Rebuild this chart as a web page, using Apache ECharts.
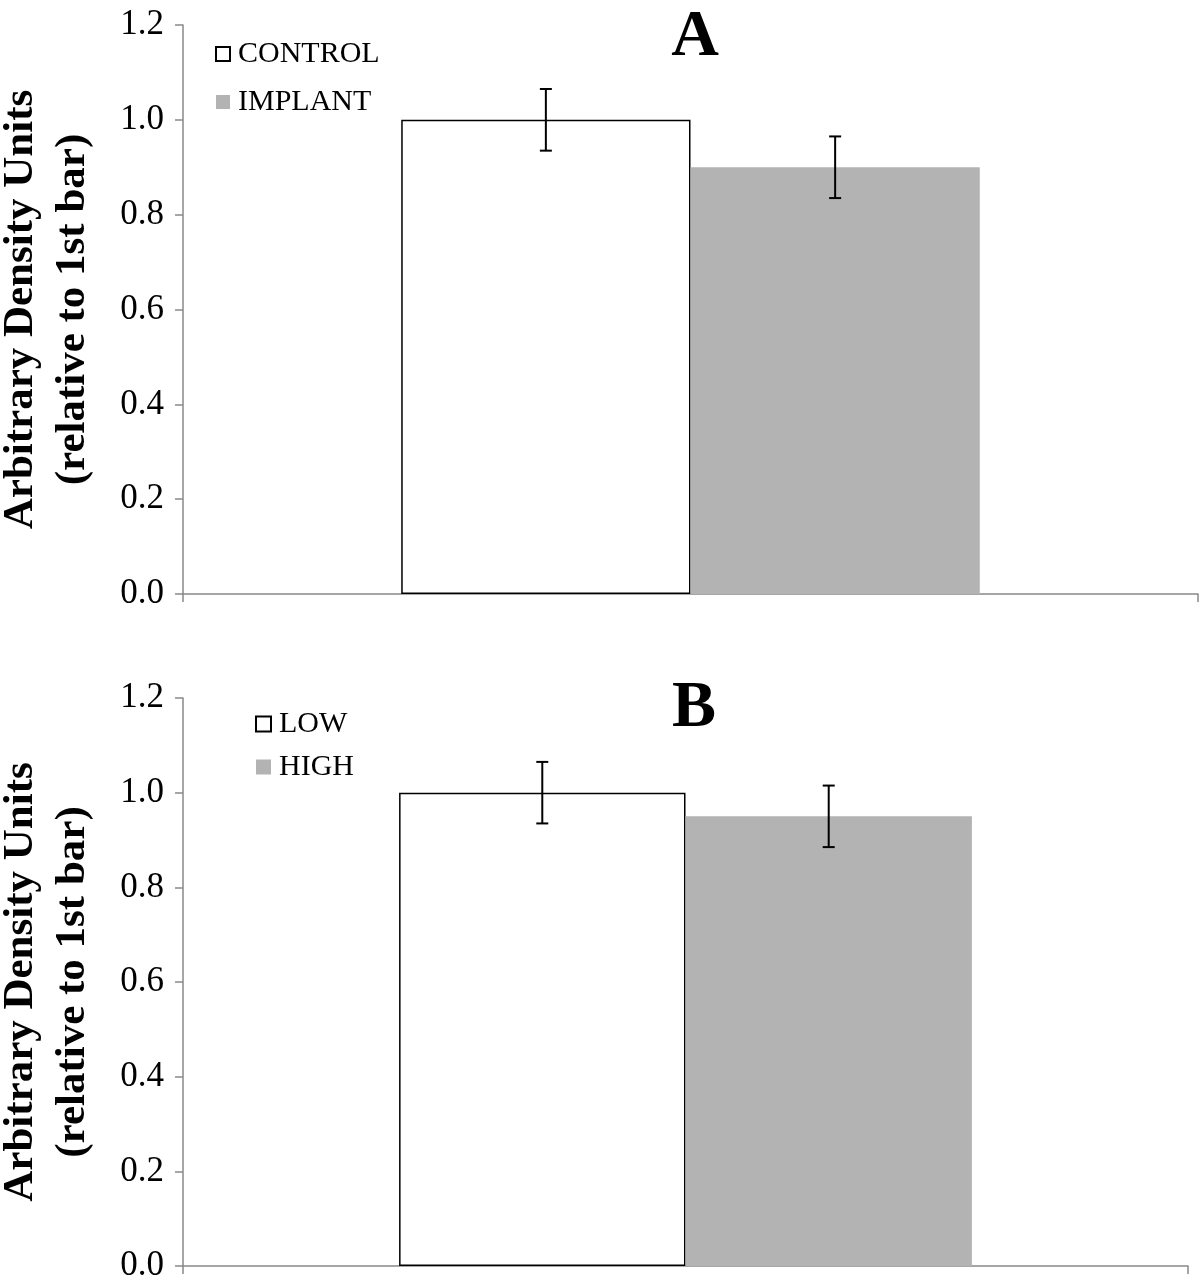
<!DOCTYPE html>
<html>
<head>
<meta charset="utf-8">
<script src="https://cdn.jsdelivr.net/npm/echarts@6/dist/echarts.min.js"></script>
<style>
html,body{margin:0;padding:0;background:#fff;}
#chart{width:1200px;height:1287px;}
</style>
</head>
<body>
<div id="chart"></div>
<script>
// ---- Data ----
const categories = [''];
const panelTitles = ['A', 'B'];
const seriesNamesA = ['CONTROL', 'IMPLANT'];
const seriesNamesB = ['LOW', 'HIGH'];
const valuesA = [1.0, 0.90];
const errorsA = [0.065, 0.065];
const valuesB = [1.0, 0.95];
const errorsB = [0.065, 0.065];
const yTicks = [0, 0.2, 0.4, 0.6, 0.8, 1.0, 1.2];
const yName = 'Arbitrary Density Units\n(relative to 1st bar)';

// ---- Styles ----
const SERIF = '"Liberation Serif","Times New Roman",serif';
const AXIS_GRAY = '#898989';
const BAR_GRAY = '#b3b3b3';
const CAT_GAP = 0.43;

const chart = echarts.init(document.getElementById('chart'), null, {renderer: 'canvas'});

function yAxisDef(gridIndex) {
  return {
    type: 'value', gridIndex: gridIndex,
    min: yTicks[0], max: yTicks[yTicks.length - 1], interval: 0.2,
    axisLine: {show: true, lineStyle: {color: AXIS_GRAY, width: 1.5}},
    axisTick: {show: true, length: 8, lineStyle: {color: AXIS_GRAY, width: 1.5}},
    splitLine: {show: false},
    axisLabel: {color: '#000', fontFamily: SERIF, fontSize: 35, margin: 19,
      formatter: v => v.toFixed(1)},
    name: yName, nameLocation: 'middle', nameRotate: 90, nameGap: 84,
    nameTextStyle: {color: '#000', fontFamily: SERIF, fontSize: 43, fontWeight: 'bold', lineHeight: 52}
  };
}
function xAxisDef(gridIndex) {
  return {
    type: 'category', gridIndex: gridIndex, data: categories,
    axisLine: {show: true, lineStyle: {color: AXIS_GRAY, width: 1.5}},
    axisTick: {show: true, length: 8, lineStyle: {color: AXIS_GRAY, width: 1.5}},
    axisLabel: {show: false},
    splitLine: {show: false}
  };
}
function barSeries(name, val, idx, gridIdx, white) {
  return {
    type: 'bar', name: name, xAxisIndex: gridIdx, yAxisIndex: gridIdx,
    data: [val], barGap: '0%', barCategoryGap: (CAT_GAP * 100) + '%',
    itemStyle: white ? {color: '#fff', borderColor: '#000', borderWidth: 1.5}
                     : {color: BAR_GRAY, borderWidth: 0},
    emphasis: {disabled: true}, silent: true
  };
}
function errSeries(vals, errs, gridIdx) {
  const data = vals.map((v, i) => [0, v - errs[i], v + errs[i], i]);
  return {
    type: 'custom', xAxisIndex: gridIdx, yAxisIndex: gridIdx, z: 10, silent: true,
    encode: {x: 0, y: [1, 2]},
    data: data,
    renderItem: function (params, api) {
      const band = api.size([1, 0])[0];
      const barW = band * (1 - CAT_GAP) / 2;
      const k = api.value(3);
      const off = (k === 0 ? -1 : 1) * barW / 2;
      const lo = api.coord([api.value(0), api.value(1)]);
      const hi = api.coord([api.value(0), api.value(2)]);
      const x = lo[0] + off;
      const cap = 6;
      const style = {stroke: '#000', lineWidth: 2};
      return {type: 'group', children: [
        {type: 'line', shape: {x1: x, y1: lo[1], x2: x, y2: hi[1]}, style: style},
        {type: 'line', shape: {x1: x - cap, y1: lo[1], x2: x + cap, y2: lo[1]}, style: style},
        {type: 'line', shape: {x1: x - cap, y1: hi[1], x2: x + cap, y2: hi[1]}, style: style}
      ]};
    }
  };
}

const option = {
  animation: false,
  backgroundColor: '#fff',
  title: [
    {text: panelTitles[0], left: 690, top: 0, textAlign: 'center',
     textStyle: {fontFamily: SERIF, fontSize: 66, fontWeight: 'bold', color: '#000', lineHeight: 66}},
    {text: panelTitles[1], left: 689, top: 671, textAlign: 'center',
     textStyle: {fontFamily: SERIF, fontSize: 66, fontWeight: 'bold', color: '#000', lineHeight: 66}}
  ],
  legend: [
    {data: seriesNamesA, orient: 'vertical', left: 215, top: 39, padding: 0, itemWidth: 14, itemHeight: 14,
     itemGap: 18, icon: 'rect', selectedMode: false,
     textStyle: {fontFamily: SERIF, fontSize: 30, color: '#000', padding: [0, 0, 0, 3]}},
    {data: seriesNamesB, orient: 'vertical', left: 255, top: 709, padding: 0, itemWidth: 15, itemHeight: 15,
     itemGap: 13, icon: 'rect', selectedMode: false,
     textStyle: {fontFamily: SERIF, fontSize: 30, color: '#000', padding: [0, 0, 0, 3]}}
  ],
  grid: [
    {left: 183, top: 25, width: 1015, height: 569, containLabel: false, outerBoundsMode: 'none'},
    {left: 183, top: 698, width: 1005, height: 568, containLabel: false, outerBoundsMode: 'none'}
  ],
  xAxis: [xAxisDef(0), xAxisDef(1)],
  yAxis: [yAxisDef(0), yAxisDef(1)],
  series: [
    barSeries(seriesNamesA[0], valuesA[0], 0, 0, true),
    barSeries(seriesNamesA[1], valuesA[1], 1, 0, false),
    errSeries(valuesA, errorsA, 0),
    barSeries(seriesNamesB[0], valuesB[0], 0, 1, true),
    barSeries(seriesNamesB[1], valuesB[1], 1, 1, false),
    errSeries(valuesB, errorsB, 1)
  ]
};
chart.setOption(option);
</script>
</body>
</html>
